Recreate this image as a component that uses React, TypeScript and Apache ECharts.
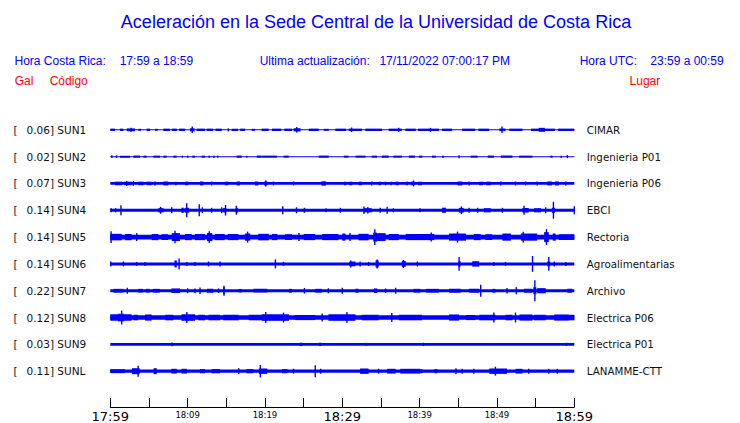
import React, { useEffect, useRef } from "react";
import * as echarts from "echarts";

// ---------- data ----------
const TITLE = "Aceleración en la Sede Central de la Universidad de Costa Rica";
const HORA_CR_LABEL = "Hora Costa Rica:";
const HORA_CR = "17:59 a 18:59";
const UPDATE_LABEL = "Ultima actualización:";
const UPDATE_VALUE = "17/11/2022 07:00:17 PM";
const HORA_UTC_LABEL = "Hora UTC:";
const HORA_UTC = "23:59 a 00:59";

const TICK_LABELS = ["17:59", "18:09", "18:19", "18:29", "18:39", "18:49", "18:59"];
const MAJOR_LABELS = ["17:59", "18:29", "18:59"];

const PEAKS = ["0.06", "0.02", "0.07", "0.14", "0.14", "0.14", "0.22", "0.12", "0.03", "0.11"];
const CODES = ["SUN1", "SUN2", "SUN3", "SUN4", "SUN5", "SUN6", "SUN7", "SUN8", "SUN9", "SUNL"];
const PLACES = [
  "CIMAR", "Ingenieria P01", "Ingenieria P06", "EBCI", "Rectoria",
  "Agroalimentarias", "Archivo", "Electrica P06", "Electrica P01", "LANAMME-CTT",
];

// background (noise) amplitude of each trace
const BASE_AMP = [0.5, 0.5, 1.4, 1.5, 2.4, 1.5, 1.5, 2.2, 1.3, 1.6];

// envelope bursts: [start minute, end minute, amplitude]
const SUN1 = [[0,0.61,1.2],[1.25,1.69,1.2],[2.12,3.19,1.4],[2.68,2.68,2.2],[3.6,3.97,1],[4.7,5.13,1.2],[5.78,6.12,1],[6.86,7.72,1.2],[7.94,8.6,1.2],[8.9,9.66,1.2],[10.6,10.6,3.3],[10.3,10.9,1.6],[11.17,12.25,1.2],[12.46,13.3,1.2],[13.6,14.4,1.2],[15.26,15.26,1.5],[15.69,16.5,1.2],[16.8,17.42,1.2],[18.28,18.71,1],[19.57,20.48,1.2],[20.91,22.1,1.2],[22.5,23.5,1.2],[23.7,24.6,1.6],[24.1,24.1,2.8],[25.66,26.95,1.2],[27.6,28.24,1],[29.1,30.5,1.2],[30.8,32.55,1.2],[31.2,31.2,2.3],[32.98,35.14,1.2],[36,37.7,1.2],[37.3,37.3,2],[38.15,39.5,1.2],[39.8,42.5,1.2],[41.4,41.4,2],[42.9,44.2,1.2],[45.5,47.2,1.2],[47.6,49,1.2],[50.3,51.1,1.3],[50.65,50.65,3.3],[51.6,53.3,1.2],[54.4,57.5,1.2],[57.9,60,1.2],[55.4,56.2,2]];
const SUN2 = [[0.2,0.2,1.3],[0.8,0.8,1.3],[1.25,2.55,1],[2.98,3.84,1.1],[4.27,4.7,1],[5.57,6.43,1],[6.86,7.29,1],[8.15,8.58,1],[9.23,9.4,1],[9.9,10.1,1],[10.6,10.95,1],[11.8,12.25,1],[12.68,12.9,1],[13.3,13.5,1],[13.8,13.97,1],[16.34,16.99,1.1],[17.6,17.7,1],[18.93,19.57,1.1],[19.62,21.56,1],[22.4,23.07,1],[26.95,28.24,1.1],[30.2,30.8,1],[31.7,33,1],[33.8,34.5,1],[35.1,36,1.1],[36.6,37.7,1],[38.6,39.4,1.1],[39.9,40.35,1],[41.6,42.1,1],[42.9,43.15,1],[45.1,45.1,1.5],[46.6,47.5,1],[48.8,49.6,1.1],[50.5,52,1.1],[52.85,54.6,1],[56.9,57.2,1],[58.2,58.4,1],[59.1,59.1,1.5]];
const SUN3 = [[0.61,1.5,1.8],[1.8,2.76,1.8],[2.12,2.12,2.5],[2.98,2.98,2.3],[3.6,4.3,1.8],[4.7,5.35,1.8],[5.78,5.78,2],[6.86,7.5,2],[8.37,8.58,1.8],[9.66,10.09,1.8],[11.6,12.03,2],[13.1,13.1,2],[14.8,15.26,1.8],[16.34,16.77,2],[18.71,19.14,2],[19.9,20.3,2],[20.1,20.1,3],[21.1,21.1,2],[23.7,23.7,2],[27.3,27.9,2.2],[30.2,30.5,1.8],[30.9,31.3,1.8],[32.1,32.55,1.8],[33.8,33.8,2],[34.7,35,1.8],[35.5,35.7,1.8],[36.2,36.4,1.8],[36.9,37.3,1.8],[38.2,38.5,1.8],[38.9,39.4,1.8],[39.2,39.2,3],[39.8,40.3,1.8],[44.9,45.5,2],[46.4,46.4,2],[47.7,48.2,1.8],[48.6,49.2,1.8],[50.5,50.5,2],[52.4,52.4,2],[53.7,53.7,2],[55.2,55.2,2],[56.5,57.1,2],[57.5,58,2],[58.9,58.9,2]];
const SUN4 = [[0,0.2,2],[0.6,0.8,2.1],[1.38,1.38,5],[6.2,6.9,2.1],[6.5,6.5,3.5],[7.94,7.94,3],[9.2,9.5,2.6],[9.6,10.2,2.4],[9.88,9.88,7],[11.5,11.5,6],[11.9,11.9,3],[13.1,13.1,2.5],[14.4,14.4,3],[14.6,15,2.3],[14.9,14.9,5.3],[16.2,16.5,2.4],[16.3,16.3,4.5],[22.3,22.3,4],[24,24.15,3],[25,25.2,2.5],[27.9,27.9,2],[29.75,29.75,2.5],[32.8,33.8,2.1],[32.8,32.8,3.8],[33.3,33.3,3.3],[34.9,34.9,2.5],[35.8,35.8,3.5],[36.6,36.6,2],[40,40.1,2],[42.9,43.4,2.6],[45.1,45.7,2.4],[45.4,45.4,4],[46.4,46.4,2.5],[47.5,47.5,2.5],[48.3,49.2,2.1],[50.7,50.7,2.5],[53.3,54.1,2.3],[53.5,53.5,4.5],[54.8,55.7,2.1],[56.3,56.3,3],[57.1,57.5,2.6],[57.3,57.3,8.5],[60,60,4]];
const SUN5 = [[0,1.47,3.3],[0.1,0.1,6],[1.9,2.76,3.1],[3.41,3.41,4],[5.35,6.21,3.1],[6.64,7.5,2.9],[7.94,9,4],[8.37,8.37,6.3],[9.66,10.52,3.1],[10.95,12.25,3.1],[12.5,13.2,4],[12.8,12.8,6],[13.54,14.8,3.1],[15.2,16.56,3.1],[17.4,18.1,3.6],[17.76,17.76,5.5],[19.14,20.5,3.3],[20.9,21.6,3.1],[22.6,23.5,2.9],[24.4,24.4,4],[25,26.5,3.1],[27.4,29.5,3.1],[30,30.4,3.6],[31,31,4],[32.1,33.4,3.3],[34,34.5,4.5],[34.2,34.2,8],[34.5,35.6,4],[36,37.3,3.1],[38.2,41.9,3.1],[41.5,41.5,4.5],[43.8,46,3.6],[44.9,44.9,5.5],[47,47.9,3.1],[48.5,49.4,2.9],[50.7,51.8,3.6],[53.1,55.2,3.6],[53.4,53.4,5.5],[56.1,56.7,5],[56.4,56.4,8],[57.2,57.6,3.6],[58,60,2.9]];
const SUN6 = [[0,0.1,2.5],[1.7,1.7,2.5],[3.4,3.4,2],[4.5,4.5,2],[8.3,8.6,3.5],[8.9,8.9,5.5],[9.9,9.9,2],[10.95,10.95,2],[12.7,12.7,2.5],[14.2,14.2,2.5],[21.3,21.4,4.5],[22.4,22.4,2],[30.9,31.7,2.4],[31.1,31.1,3.5],[32.3,32.3,2.5],[33.4,33.4,2],[34.3,34.7,3.5],[34.5,34.5,4.5],[37.7,38.2,3],[37.9,37.9,4],[39.7,39.7,2.5],[45,45.3,2.7],[45.1,45.1,7],[46.8,47.7,2.7],[49.6,49.6,2],[51.1,51.1,2],[54.6,54.6,8],[56.5,56.9,2.4],[56.7,56.7,7],[57.4,57.4,2.5],[58.9,58.9,2]];
const SUN7 = [[0.4,1.7,1.9],[2.2,2.2,3],[3.6,4.2,1.9],[4.6,5.1,1.9],[5.5,6.4,1.9],[7.9,9,2.3],[10,10,2.5],[10.95,10.95,2.3],[11.6,11.6,3.3],[12.5,13.3,2],[14,14,2.3],[14.6,14.8,3.5],[14.7,14.7,5],[16.6,17,1.8],[18.5,20.3,1.9],[23.1,23.5,1.9],[25.1,25.1,2.8],[26.5,27.4,1.9],[28.2,28.2,2.5],[30,30,3],[31.7,32.1,2],[34.1,34.5,2.3],[35.6,35.6,2.3],[36.9,36.9,3],[39.2,40.1,1.9],[40.8,42.5,1.9],[43.8,45.3,2],[46.4,47.7,2],[47.9,47.9,6],[49.4,49.8,1.9],[51.3,51.3,2.8],[52.5,52.5,3.5],[53.5,54.6,2],[54.7,55.1,3.5],[54.9,54.9,10.5],[55.2,56.3,2.6],[59.1,59.7,2]];
const SUN8 = [[0,2.76,3.3],[1,1.8,3.8],[1.47,1.47,7],[3,3.6,2.8],[4.5,5.35,3.1],[7.1,8.15,2.8],[9.2,10.95,3.3],[9.9,9.9,5.5],[11.4,12.25,2.8],[12.7,14.2,2.8],[14.6,16.6,2.8],[17.9,20,2.8],[19.6,23.1,3.3],[20.1,20.1,5.5],[22.4,22.4,5],[23.9,26.5,2.6],[27.4,27.4,4],[28.2,31.7,3.3],[30.6,30.6,5.5],[32.5,34.7,2.8],[36.4,36.4,4.5],[37.3,40.3,2.8],[43.8,45.1,3.1],[46,47.2,2.6],[47.7,49.8,2.8],[49.6,49.6,5],[51.1,52,2.8],[52.4,52.4,5],[52.9,54.6,3.1],[54.8,56.3,2.8],[57.4,59.3,3.1],[59.3,60,2.8]];
const SUN9 = [[8,8,1.8],[24.5,24.8,1.7],[27,27.3,1.7],[33,33.2,1.6],[40.5,40.5,1.7],[59,59,1.7]];
const SUNL = [[0,1.9,2],[2.8,3.8,3],[3.6,3.6,5.5],[5.6,6,3],[7.9,8.6,2.4],[9.2,9.9,2.4],[11.6,12.25,2.1],[13.1,14.2,2.1],[16.6,16.6,3],[17.6,18.5,2.1],[19.2,20.3,2.7],[19.4,19.4,6.3],[22.2,22.9,2.1],[23.7,23.7,2.5],[26.5,26.5,6],[27.2,27.2,2.5],[32.3,33.4,2.7],[34.7,34.7,2.5],[35.8,36.9,2.4],[37.5,40.1,2.4],[40.1,40.35,2.1],[41.9,42.3,2.1],[44.7,44.7,3],[45.5,45.5,2.5],[47,47,2.5],[49,51.3,2.7],[49.8,49.8,4.5],[52.4,53.3,2.4],[54.1,54.1,2.5],[56.7,56.7,2.5],[57.8,57.8,2.5]];

const BURSTS = [SUN1, SUN2, SUN3, SUN4, SUN5, SUN6, SUN7, SUN8, SUN9, SUNL];
const DURATION_MIN = 60;

// ---------- styles ----------
const BLUE = "#0000ff";
const RED = "#ff0000";
const HEAD_FONT = '"Liberation Sans", Arial, sans-serif';
const AXIS_FONT = '"DejaVu Sans", sans-serif';
const AMP_SCALE = 1 / 27;

export default function App() {
  const ref = useRef<HTMLDivElement>(null);

  useEffect(() => {
    if (!ref.current) return;
    const chart = echarts.init(ref.current, undefined, { renderer: "svg" });

    const data: number[][] = [];
    BURSTS.forEach((list, i) => {
      data.push([i, 0, DURATION_MIN, BASE_AMP[i]]);
      list.forEach((b) => data.push([i, b[0], b[1], b[2]]));
    });

    const headText = (text: string, x: number, y: number, fill: string, size = 12, align = "left") => ({
      type: "text",
      x,
      y,
      silent: true,
      style: {
        text,
        fill,
        font: `${size}px ${HEAD_FONT}`,
        align,
        verticalAlign: "middle",
      },
    });

    const option: any = {
      animation: false,
      backgroundColor: "#ffffff",
      graphic: [
        headText(TITLE, 376, 22, BLUE, 18, "center"),
        headText(HORA_CR_LABEL, 14.5, 60.5, BLUE),
        headText(HORA_CR, 119.7, 60.5, BLUE),
        headText(UPDATE_LABEL, 259.7, 60.5, BLUE),
        headText(UPDATE_VALUE, 379.4, 60.5, BLUE),
        headText(HORA_UTC_LABEL, 579.7, 60.5, BLUE),
        headText(HORA_UTC, 650.3, 60.5, BLUE),
        headText("Gal", 14.7, 80.5, RED),
        headText("Código", 49.7, 80.5, RED),
        headText("Lugar", 629.6, 80.5, RED),
      ],
      grid: { left: 110.3, right: 165.7, top: 103, bottom: 23 },
      xAxis: {
        type: "value",
        position: "bottom",
        min: 0,
        max: DURATION_MIN,
        interval: 5,
        offset: 9,
        axisLine: { show: true, onZero: false, lineStyle: { color: "#000", width: 1 } },
        axisTick: { show: true, inside: true, length: 9, lineStyle: { color: "#000" } },
        splitLine: { show: false },
        axisLabel: {
          margin: 2,
          color: "#000",
          fontFamily: AXIS_FONT,
          formatter: (v: number) => {
            if (Math.round(v) % 10 !== 0) return "";
            const label = TICK_LABELS[Math.round(v) / 10];
            if (!label) return "";
            return MAJOR_LABELS.includes(label) ? `{big|${label}}` : `{small|${label}}`;
          },
          rich: {
            big: { fontSize: 13, fontFamily: AXIS_FONT, color: "#000", padding: [1, 0, 0, 0] },
            small: { fontSize: 8.5, fontFamily: AXIS_FONT, color: "#000", padding: [1, 0, 0, 0] },
          },
        },
      },
      yAxis: [
        {
          type: "value",
          min: -1,
          max: 10,
          interval: 1,
          inverse: true,
          position: "left",
          axisLine: { show: false, onZero: false },
          axisTick: { show: false },
          splitLine: { show: false },
          axisLabel: {
            align: "left",
            margin: 96.8,
            formatter: (v: number) => {
              const i = Math.round(v);
              if (i < 0 || i >= CODES.length) return "";
              return `{a|[}{b|${PEAKS[i]}] ${CODES[i]}}`;
            },
            rich: {
              a: { width: 13, fontSize: 10.5, fontFamily: AXIS_FONT, color: "#111" },
              b: { fontSize: 10.5, fontFamily: AXIS_FONT, color: "#111" },
            },
          },
        },
        {
          type: "value",
          min: -1,
          max: 10,
          interval: 1,
          inverse: true,
          position: "right",
          axisLine: { show: false, onZero: false },
          axisTick: { show: false },
          splitLine: { show: false },
          axisLabel: {
            align: "left",
            margin: 12.5,
            fontSize: 10.3,
            fontFamily: AXIS_FONT,
            color: "#111",
            formatter: (v: number) => {
              const i = Math.round(v);
              if (i < 0 || i >= PLACES.length) return "";
              return PLACES[i];
            },
          },
        },
      ],
      series: [
        {
          type: "custom",
          xAxisIndex: 0,
          yAxisIndex: 0,
          clip: false,
          encode: { x: [1, 2], y: [0] },
          data,
          renderItem: (_params: any, api: any) => {
            const t = api.value(0);
            const s = api.value(1);
            const e = api.value(2);
            const a = api.value(3);
            const p0 = api.coord([s, t - a * AMP_SCALE]);
            const p1 = api.coord([e, t + a * AMP_SCALE]);
            let x0 = p0[0];
            let w = p1[0] - p0[0];
            if (w < 1.4) {
              const c = (p0[0] + p1[0]) / 2;
              x0 = c - 0.7;
              w = 1.4;
            }
            const y0 = Math.min(p0[1], p1[1]);
            const h = Math.abs(p1[1] - p0[1]);
            return {
              type: "rect",
              shape: { x: x0, y: y0, width: w, height: h },
              style: { fill: BLUE },
            };
          },
        },
      ],
    };

    chart.setOption(option);
    return () => chart.dispose();
  }, []);

  return (
    <div
      ref={ref}
      style={{ position: "fixed", left: 0, top: 0, width: 740, height: 423, background: "#fff" }}
    />
  );
}
